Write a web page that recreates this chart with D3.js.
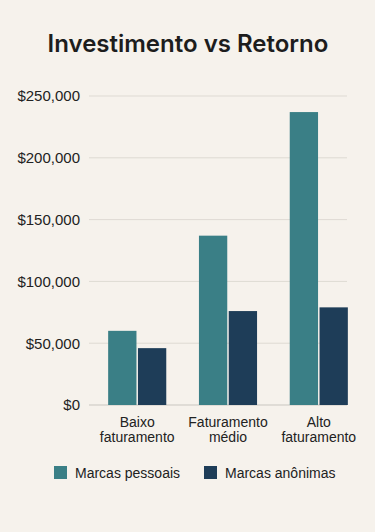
<!DOCTYPE html>
<html>
<head>
<meta charset="utf-8">
<script src="https://cdn.jsdelivr.net/npm/d3@7"></script>
<style>
  body { margin: 0; background: #f6f2ec; }
  svg { display: block; font-family: "Liberation Sans", Arial, sans-serif; }
</style>
</head>
<body>
<div id="chart"></div>
<script>
// data
var categories = [["Baixo", "faturamento"], ["Faturamento", "médio"], ["Alto", "faturamento"]];
var seriesNames = ["Marcas pessoais", "Marcas anônimas"];
var pessoais = [60000, 137000, 237000];
var anonimas = [46000, 76000, 79000];
var yTicks = [0, 50000, 100000, 150000, 200000, 250000];
var colors = ["#3a7f86", "#1e3d58"];

var width = 375, height = 532;

var svg = d3.select("#chart")
  .append("svg")
    .attr("width", width)
    .attr("height", height);

svg.append("rect")
    .attr("width", width).attr("height", height)
    .attr("fill", "#f6f2ec");

// title
svg.append("text")
    .attr("x", 188).attr("y", 52)
    .attr("text-anchor", "middle")
    .attr("font-family", "Inter, 'Noto Sans', sans-serif")
    .attr("font-size", 24)
    .attr("font-weight", 600)
    .attr("fill", "#1d1d1d")
    .text("Investimento vs Retorno");

var y = d3.scaleLinear()
    .domain([0, 250000])
    .range([405, 96]);

var x = d3.scaleBand()
    .domain(d3.range(categories.length))
    .range([90, 366])
    .paddingInner(0.36)
    .paddingOuter(0.2);

var xSub = d3.scaleBand()
    .domain([0, 1])
    .range([0, x.bandwidth()])
    .paddingInner(0.05);

// grid lines
svg.append("g")
  .selectAll("line")
  .data(yTicks)
  .enter().append("line")
    .attr("x1", 89).attr("x2", 347)
    .attr("y1", function(d) { return y(d); })
    .attr("y2", function(d) { return y(d); })
    .attr("stroke", function(d) { return d === 0 ? "#c9c6c0" : "#dedad3"; })
    .attr("stroke-width", 1);

// y axis labels
var yAxis = d3.axisLeft(y)
    .tickValues(yTicks)
    .tickSize(0)
    .tickPadding(0)
    .tickFormat(function(d) { return "$" + d3.format(",")(d); });
var gy = svg.append("g")
    .attr("transform", "translate(80,0)")
    .call(yAxis);
gy.select(".domain").remove();
gy.selectAll("text")
    .attr("font-size", 15)
    .attr("font-family", "'Liberation Sans', Arial, sans-serif")
    .attr("fill", "#222");

// bars
var rows = categories.map(function(c, i) { return [pessoais[i], anonimas[i]]; });
svg.append("g")
  .selectAll("g")
  .data(rows)
  .enter().append("g")
    .attr("transform", function(d, i) { return "translate(" + x(i) + ",0)"; })
  .selectAll("rect")
  .data(function(d) { return d; })
  .enter().append("rect")
    .attr("x", function(d, j) { return xSub(j); })
    .attr("y", function(d) { return y(d); })
    .attr("width", xSub.bandwidth())
    .attr("height", function(d) { return y(0) - y(d); })
    .attr("fill", function(d, j) { return colors[j]; });

// x labels
var gx = svg.append("g")
  .selectAll("text")
  .data(categories)
  .enter().append("text")
    .attr("x", function(d, i) { return x(i) + x.bandwidth() / 2; })
    .attr("y", 427)
    .attr("text-anchor", "middle")
    .attr("font-size", 14)
    .attr("fill", "#222");
gx.selectAll("tspan")
  .data(function(d) { return d; })
  .enter().append("tspan")
    .attr("x", function() { return d3.select(this.parentNode).attr("x"); })
    .attr("dy", function(d, k) { return k === 0 ? 0 : 15; })
    .text(function(d) { return d; });

// legend
var legendX = [54, 204];
var leg = svg.append("g")
  .selectAll("g")
  .data(seriesNames)
  .enter().append("g")
    .attr("transform", function(d, i) { return "translate(" + legendX[i] + ",466)"; });
leg.append("rect")
    .attr("width", 13).attr("height", 13)
    .attr("fill", function(d, i) { return colors[i]; });
leg.append("text")
    .attr("x", 21).attr("y", 12)
    .attr("font-size", 14)
    .attr("fill", "#222")
    .text(function(d) { return d; });
</script>
</body>
</html>
